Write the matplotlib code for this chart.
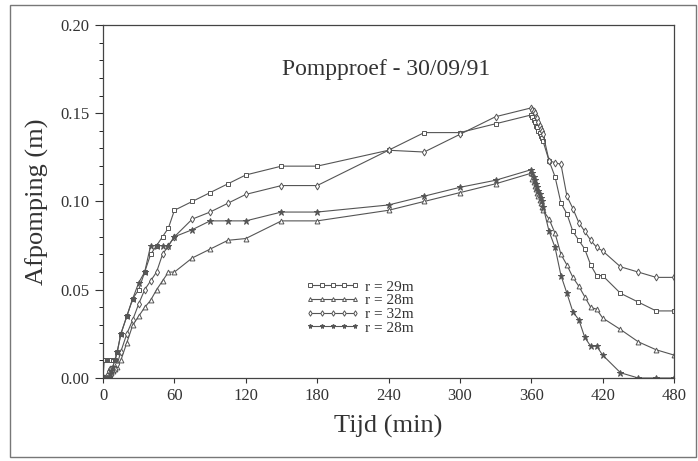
import matplotlib
matplotlib.use('Agg')
import matplotlib.pyplot as plt
from matplotlib.patches import Rectangle
from matplotlib.ticker import MultipleLocator, FormatStrFormatter

plt.rcParams['font.family'] = ['Liberation Serif', 'DejaVu Serif']

# time in minutes (pumping 0-360, recovery 360-480)
tijd = [0, 1, 2, 3, 4, 5, 6, 7, 8, 10, 12, 15, 20, 25, 30, 35, 40, 45, 50, 55,
        60, 75, 90, 105, 120, 150, 180, 240, 270, 300, 330, 360,
        361, 362, 363, 364, 365, 366, 367, 368, 369, 370, 375, 380, 385, 390,
        395, 400, 405, 410, 415, 420, 435, 450, 465, 480]

# drawdown (m)
r29 = [0.0, 0.01, 0.01, 0.01, 0.01, 0.01, 0.01, 0.01, 0.01, 0.01, 0.015, 0.025,
       0.035, 0.045, 0.05, 0.06, 0.07, 0.075, 0.08, 0.085,
       0.095, 0.10, 0.105, 0.11, 0.115, 0.12, 0.12, 0.129, 0.139, 0.139, 0.144, 0.149,
       0.148, 0.146, 0.145, 0.143, 0.142, 0.140, 0.139, 0.137, 0.136, 0.134,
       0.123, 0.114, 0.099, 0.093, 0.083, 0.078, 0.073, 0.064, 0.058, 0.058,
       0.048, 0.043, 0.038, 0.038]

r28a = [0.0, 0.0, 0.0, 0.0, 0.0, 0.0, 0.002, 0.003, 0.004, 0.005, 0.006, 0.01,
        0.02, 0.03, 0.035, 0.04, 0.044, 0.05, 0.055, 0.06,
        0.06, 0.068, 0.073, 0.078, 0.079, 0.089, 0.089, 0.095, 0.10, 0.105, 0.11, 0.116,
        0.113, 0.111, 0.109, 0.107, 0.105, 0.103, 0.101, 0.099, 0.097, 0.095,
        0.090, 0.082, 0.070, 0.064, 0.057, 0.052, 0.046, 0.040, 0.039, 0.034,
        0.0275, 0.0205, 0.016, 0.013]

r32 = [0.0, 0.0, 0.0, 0.0, 0.002, 0.004, 0.005, 0.005, 0.005, 0.005, 0.008, 0.015,
       0.025, 0.033, 0.042, 0.05, 0.055, 0.06, 0.07, 0.075,
       0.08, 0.09, 0.094, 0.099, 0.104, 0.109, 0.109, 0.129, 0.128, 0.138, 0.148, 0.153,
       0.152, 0.151, 0.150, 0.148, 0.147, 0.145, 0.143, 0.141, 0.140, 0.138,
       0.123, 0.122, 0.121, 0.103, 0.096, 0.088, 0.083, 0.078, 0.074, 0.072,
       0.063, 0.060, 0.057, 0.057]

r28b = [0.0, 0.0, 0.0, 0.0, 0.0, 0.0, 0.002, 0.004, 0.006, 0.01, 0.015, 0.025,
        0.035, 0.045, 0.054, 0.06, 0.075, 0.075, 0.075, 0.075,
        0.08, 0.084, 0.089, 0.089, 0.089, 0.094, 0.094, 0.098, 0.103, 0.108, 0.112, 0.118,
        0.116, 0.114, 0.112, 0.110, 0.108, 0.106, 0.104, 0.102, 0.100, 0.097,
        0.083, 0.074, 0.058, 0.048, 0.0375, 0.033, 0.023, 0.018, 0.018, 0.013,
        0.003, 0.0, 0.0, 0.0]

labels = ['r = 29m', 'r = 28m', 'r = 32m', 'r = 28m']
markers = ['s', '^', 'd', '*']
grey = '#555555'

fig = plt.figure(figsize=(6.98, 4.61), dpi=100)
ax = fig.add_axes([0.1476, 0.18, 0.818, 0.766])

for y, lab, m in zip([r29, r28a, r32, r28b], labels, markers):
    filled = m == '*'
    ax.plot(tijd, y, color=grey, lw=0.8, marker=m, markersize=3.5 if m != '*' else 4.5,
            markerfacecolor=grey if filled else 'white', markeredgecolor=grey,
            markeredgewidth=0.7, label=lab)

ax.set_xlim(0, 480)
ax.set_ylim(0, 0.20)
ax.xaxis.set_major_locator(MultipleLocator(60))
ax.yaxis.set_major_locator(MultipleLocator(0.05))
ax.yaxis.set_minor_locator(MultipleLocator(0.01))
ax.yaxis.set_major_formatter(FormatStrFormatter('%.2f'))
ax.tick_params(axis='both', labelsize=12, colors='#333333', direction='out')
ax.tick_params(axis='y', which='major', length=6)
ax.tick_params(axis='y', which='minor', length=3)
for s in ax.spines.values():
    s.set_color('#444444')
    s.set_linewidth(0.9)

ax.set_xlabel('Tijd (min)', fontsize=19, color='#333333', labelpad=8)
ax.set_ylabel('Afpomping (m)', fontsize=19, color='#333333', labelpad=8)
ax.text(238, 0.175, 'Pompproef - 30/09/91', fontsize=17, color='#333333',
        ha='center', va='center')

ax.legend(loc='center', bbox_to_anchor=(0.45, 0.2), frameon=False, fontsize=11,
          numpoints=5, handlelength=3.5, handletextpad=0.4, labelspacing=0.0,
          markerscale=0.8, labelcolor='#333333')

fig.patches.append(Rectangle((10 / 698, 4 / 461), 686 / 698, 452 / 461,
                             transform=fig.transFigure, fill=False,
                             edgecolor='#777777', linewidth=1.0))

fig.savefig('out.png', dpi=100)
